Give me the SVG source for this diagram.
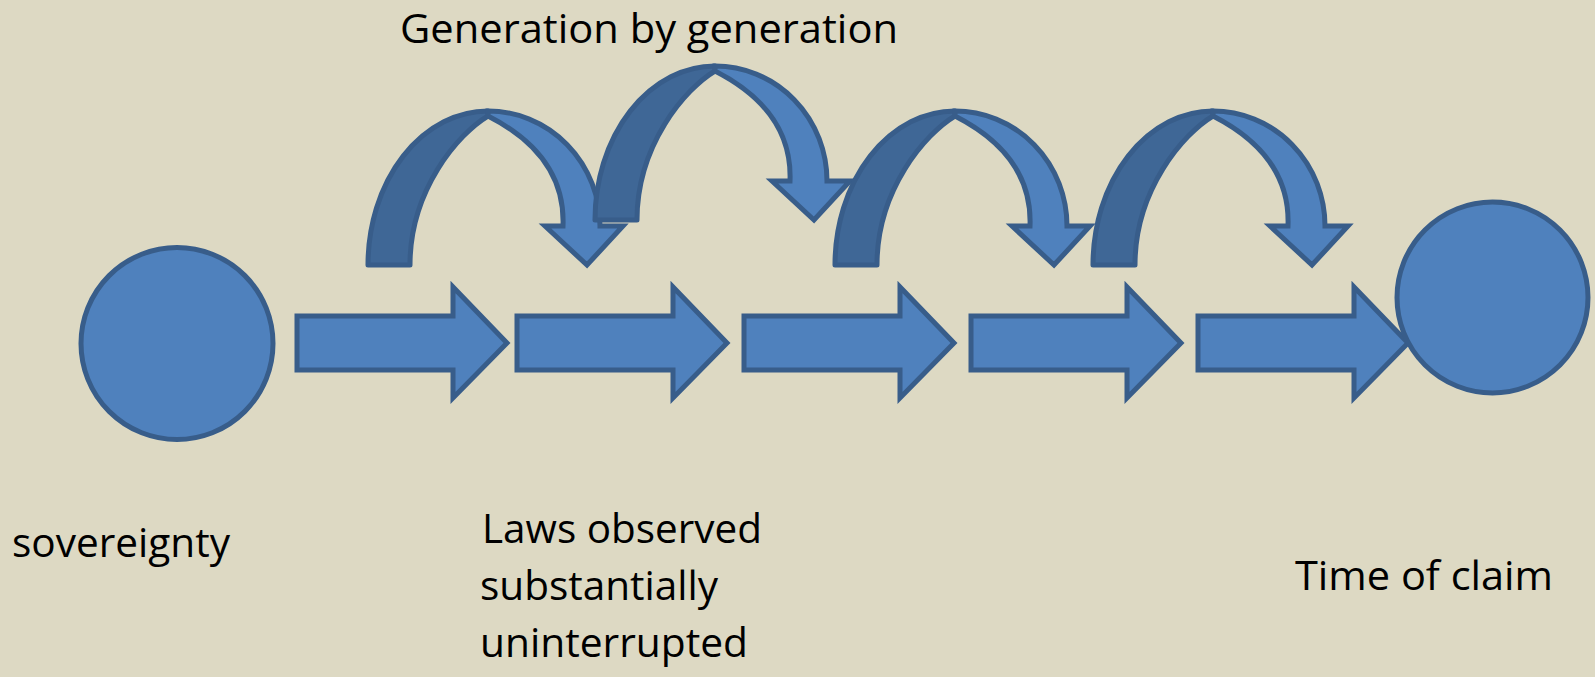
<svg xmlns="http://www.w3.org/2000/svg" xmlns:xlink="http://www.w3.org/1999/xlink" width="1595" height="677" viewBox="0 0 1595 677">
<defs>
<style>
.bg{fill:#DDD9C3}
.sh{fill:#4F81BD;stroke:#385D8A;stroke-width:5;stroke-linejoin:miter}
.dk{fill:#3F6796;stroke:#385D8A;stroke-width:5;stroke-linejoin:round}
.lt{fill:#4F81BD;stroke:#385D8A;stroke-width:5;stroke-linejoin:miter}
.tx{font-family:"Open Sans","Liberation Sans",sans-serif;font-size:41px;fill:#000}
</style>
<g id="curve">
<path class="dk" d="M368,265 A120,154 0 0 1 488,111 L488,116 C458,134 410,190 410,265 Z"/>
<path class="lt" d="M488,111 A112,115 0 0 1 600,226 L623,226 L587,265 L545,226 L563,226 C565,175 535,140 488,116 Z"/>
</g>
<path id="block" d="M0,316 H156 V287 L210,343 L156,398 V370 H0 Z"/>
</defs>
<rect class="bg" x="0" y="0" width="1595" height="677"/>

<g id="connectors">
<use class="sh" xlink:href="#block" href="#block" transform="translate(297,0)"/>
<use class="sh" xlink:href="#block" href="#block" transform="translate(517,0)"/>
<use class="sh" xlink:href="#block" href="#block" transform="translate(744,0)"/>
<use class="sh" xlink:href="#block" href="#block" transform="translate(971,0)"/>
<use class="sh" xlink:href="#block" href="#block" transform="translate(1198,0)"/>
</g>

<g id="curved-arrow-1"><use xlink:href="#curve" href="#curve"/></g>
<g id="curved-arrow-2"><use xlink:href="#curve" href="#curve" transform="translate(227,-45)"/></g>
<g id="curved-arrow-3"><use xlink:href="#curve" href="#curve" transform="translate(467,0)"/></g>
<g id="curved-arrow-4"><use xlink:href="#curve" href="#curve" transform="translate(725,0)"/></g>

<g id="node-sovereignty">
<circle class="sh" cx="177" cy="343.5" r="96"/>
<text class="tx" x="12" y="557" textLength="218" lengthAdjust="spacingAndGlyphs">sovereignty</text>
</g>

<g id="node-claim">
<circle class="sh" cx="1492.5" cy="297.5" r="95.5"/>
<text class="tx" x="1295" y="590" textLength="258" lengthAdjust="spacingAndGlyphs">Time of claim</text>
</g>

<g id="label-generation">
<text class="tx" x="400" y="43" textLength="498" lengthAdjust="spacingAndGlyphs">Generation by generation</text>
</g>

<g id="label-laws">
<text class="tx" x="482" y="543" textLength="280" lengthAdjust="spacingAndGlyphs">Laws observed</text>
<text class="tx" x="480" y="600" textLength="238" lengthAdjust="spacingAndGlyphs">substantially</text>
<text class="tx" x="480" y="657" textLength="268" lengthAdjust="spacingAndGlyphs">uninterrupted</text>
</g>
</svg>
